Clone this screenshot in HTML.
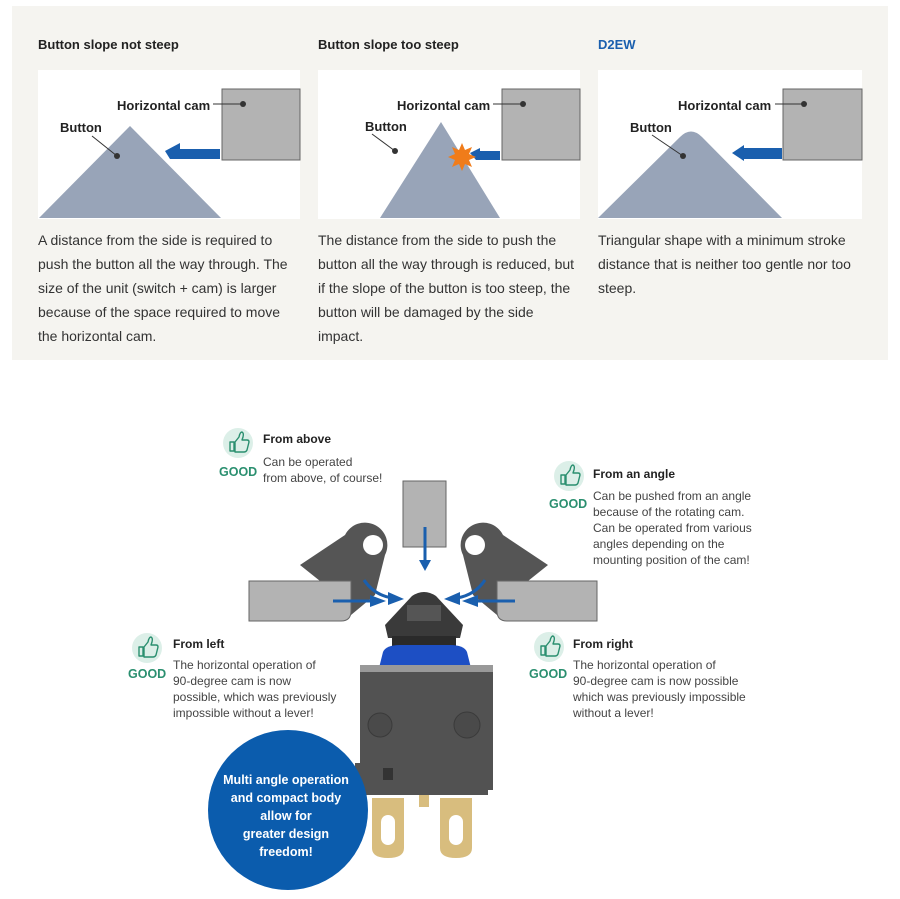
<!DOCTYPE html>
<html><head><meta charset="utf-8"><style>
html,body{margin:0;padding:0;background:#fff;}
svg{display:block;}
text{font-family:"Liberation Sans",Arial,sans-serif;}
.h{font-weight:bold;font-size:13px;fill:#222;}
.p{font-size:14px;fill:#333;}
.lb{font-weight:bold;font-size:13px;fill:#222;}
.t{font-weight:bold;font-size:12px;fill:#222;}
.d{font-size:12px;fill:#444;}
.g{font-weight:bold;font-size:12.5px;fill:#2a8f6f;}
</style></head><body>
<svg width="900" height="899" viewBox="0 0 900 899" xmlns="http://www.w3.org/2000/svg">
<defs>
<g id="thumb">
<circle cx="0" cy="0" r="15" fill="#dcefe8"/>
<path d="M-8,-1 h4 v9 h-4 z M-3,-1 l4,-5 q1,-5 3,-5 q2,1 1,5 l-1,3 h5 q2,0 2,2 l-2,8 q-1,2 -3,2 h-9 z" fill="none" stroke="#2a8f6f" stroke-width="1.4" stroke-linejoin="round"/>
</g>
</defs>
<rect x="12" y="6" width="876" height="354" fill="#f5f4f0"/>
<text class="h" x="38" y="49">Button slope not steep</text>
<text class="h" x="318" y="49">Button slope too steep</text>
<text class="h" x="598" y="49" style="fill:#1a5fae">D2EW</text>
<!-- panel 1 -->
<rect x="38" y="70" width="262" height="149" fill="#fff"/>
<rect x="222" y="89" width="78" height="71" fill="#b3b3b3" stroke="#666" stroke-width="1"/>
<polygon points="130,126 221,218 39,218" fill="#98a4b8"/>
<polygon points="165,151 180,143 180,149 220,149 220,159 170,159" fill="#1a5fae"/>
<line x1="92" y1="136" x2="117" y2="156" stroke="#333"/><circle cx="117" cy="156" r="3" fill="#333"/>
<line x1="213" y1="104" x2="243" y2="104" stroke="#333"/><circle cx="243" cy="104" r="3" fill="#333"/>
<text class="lb" x="117" y="110">Horizontal cam</text>
<text class="lb" x="60" y="132">Button</text>
<!-- panel 2 -->
<rect x="318" y="70" width="262" height="149" fill="#fff"/>
<rect x="502" y="89" width="78" height="71" fill="#b3b3b3" stroke="#666" stroke-width="1"/>
<polygon points="441,122 500,218 380,218" fill="#98a4b8"/>
<polygon points="470,153 480,148 480,151 500,151 500,160 476,160" fill="#1a5fae"/>
<polygon points="462,143 465,150 472,147 469,154 476,157 469,160 472,167 465,164 462,171 459,164 452,167 455,160 448,157 455,154 452,147 459,150" fill="#f07c1a"/>
<line x1="372" y1="134" x2="395" y2="151" stroke="#333"/><circle cx="395" cy="151" r="3" fill="#333"/>
<line x1="493" y1="104" x2="523" y2="104" stroke="#333"/><circle cx="523" cy="104" r="3" fill="#333"/>
<text class="lb" x="397" y="110">Horizontal cam</text>
<text class="lb" x="365" y="131">Button</text>
<!-- panel 3 -->
<rect x="598" y="70" width="264" height="149" fill="#fff"/>
<rect x="783" y="89" width="79" height="71" fill="#b3b3b3" stroke="#666" stroke-width="1"/>
<path d="M598,218 L680,137 Q691,126 702,137 L782,218 Z" fill="#98a4b8"/>
<polygon points="732,153 744,145 744,148 782,148 782,159 744,159 744,161" fill="#1a5fae"/>
<line x1="652" y1="135" x2="683" y2="156" stroke="#333"/><circle cx="683" cy="156" r="3" fill="#333"/>
<line x1="775" y1="104" x2="804" y2="104" stroke="#333"/><circle cx="804" cy="104" r="3" fill="#333"/>
<text class="lb" x="678" y="110">Horizontal cam</text>
<text class="lb" x="630" y="132">Button</text>
<!-- paragraphs -->
<g class="p">
<text x="38" y="245">A distance from the side is required to</text>
<text x="38" y="269">push the button all the way through. The</text>
<text x="38" y="293">size of the unit (switch + cam) is larger</text>
<text x="38" y="317">because of the space required to move</text>
<text x="38" y="341">the horizontal cam.</text>
<text x="318" y="245">The distance from the side to push the</text>
<text x="318" y="269">button all the way through is reduced, but</text>
<text x="318" y="293">if the slope of the button is too steep, the</text>
<text x="318" y="317">button will be damaged by the side</text>
<text x="318" y="341">impact.</text>
<text x="598" y="245">Triangular shape with a minimum stroke</text>
<text x="598" y="269">distance that is neither too gentle nor too</text>
<text x="598" y="293">steep.</text>
</g>
<!-- bottom diagram -->
<rect x="403" y="481" width="43" height="66" fill="#b3b3b3" stroke="#666"/>
<path d="M345,535 a20,20 0 1 1 40,20 l-10,40 l-30,25 l-20,-35 l-25,-20 z" fill="#555"/>
<circle cx="373" cy="545" r="10" fill="#fff"/>
<path d="M503,535 a20,20 0 1 0 -40,20 l10,40 l30,25 l20,-35 l25,-20 z" fill="#555"/>
<circle cx="475" cy="545" r="10" fill="#fff"/>
<path d="M249,581 h102 v30 q0,10 -10,10 h-92 z" fill="#b3b3b3" stroke="#666"/>
<path d="M597,581 h-100 v30 q0,10 10,10 h90 z" fill="#b3b3b3" stroke="#666"/>
<g fill="none" stroke="#1a5fae" stroke-width="3">
<line x1="425" y1="527" x2="425" y2="562"/>
<line x1="333" y1="601" x2="372" y2="601"/>
<line x1="515" y1="601" x2="476" y2="601"/>
<path d="M364,580 q10,15 28,18"/>
<path d="M485,580 q-10,15 -28,18"/>
</g>
<g fill="#1a5fae">
<polygon points="419,560 431,560 425,571"/>
<polygon points="370,595 386,601 370,607"/>
<polygon points="478,595 462,601 478,607"/>
<polygon points="388,592 404,599 388,605"/>
<polygon points="460,592 444,599 460,605"/>
</g>
<path d="M385,625 L412,596 Q424,588 436,596 L463,625 L460,638 L388,638 Z" fill="#3a3a3a"/>
<rect x="407" y="605" width="34" height="16" fill="#555"/>
<rect x="392" y="636" width="64" height="12" fill="#2a2a2a"/>
<path d="M378,672 L383,652 Q386,645 400,645 H450 Q464,645 467,652 L472,672 Z" fill="#1d4fc4"/>
<rect x="360" y="665" width="133" height="7" fill="#999"/>
<path d="M360,672 H493 V790 H488 V795 H365 V790 H355 V763 H360 Z" fill="#525252"/>
<circle cx="467" cy="725" r="13" fill="#4a4a4a" stroke="#3a3a3a"/>
<circle cx="380" cy="725" r="12" fill="#4a4a4a" stroke="#3a3a3a"/>
<rect x="383" y="768" width="10" height="12" fill="#333"/>
<g fill="#d8bd7e">
<path d="M372,798 h32 v50 q0,10 -16,10 q-16,0 -16,-10 z"/>
<path d="M440,798 h32 v50 q0,10 -16,10 q-16,0 -16,-10 z"/>
<rect x="419" y="795" width="10" height="12"/>
</g>
<rect x="381" y="815" width="14" height="30" rx="7" fill="#fff"/>
<rect x="449" y="815" width="14" height="30" rx="7" fill="#fff"/>
<circle cx="288" cy="810" r="80" fill="#0b5cad"/>
<g font-weight="bold" font-size="12.5" fill="#fff" text-anchor="middle">
<text x="286" y="784">Multi angle operation</text>
<text x="286" y="802">and compact body</text>
<text x="286" y="820">allow for</text>
<text x="286" y="838">greater design</text>
<text x="286" y="856">freedom!</text>
</g>
<use href="#thumb" x="238" y="443"/>
<text class="g" x="219" y="476">GOOD</text>
<text class="t" x="263" y="443">From above</text>
<text class="d" x="263" y="466">Can be operated</text>
<text class="d" x="263" y="482">from above, of course!</text>

<use href="#thumb" x="569" y="476"/>
<text class="g" x="549" y="508">GOOD</text>
<text class="t" x="593" y="478">From an angle</text>
<text class="d" x="593" y="500">Can be pushed from an angle</text>
<text class="d" x="593" y="516">because of the rotating cam.</text>
<text class="d" x="593" y="532">Can be operated from various</text>
<text class="d" x="593" y="548">angles depending on the</text>
<text class="d" x="593" y="564">mounting position of the cam!</text>

<use href="#thumb" x="147" y="648"/>
<text class="g" x="128" y="678">GOOD</text>
<text class="t" x="173" y="648">From left</text>
<text class="d" x="173" y="669">The horizontal operation of</text>
<text class="d" x="173" y="685">90-degree cam is now</text>
<text class="d" x="173" y="701">possible, which was previously</text>
<text class="d" x="173" y="717">impossible without a lever!</text>

<use href="#thumb" x="549" y="647"/>
<text class="g" x="529" y="678">GOOD</text>
<text class="t" x="573" y="648">From right</text>
<text class="d" x="573" y="669">The horizontal operation of</text>
<text class="d" x="573" y="685">90-degree cam is now possible</text>
<text class="d" x="573" y="701">which was previously impossible</text>
<text class="d" x="573" y="717">without a lever!</text>
</svg>
</body></html>
